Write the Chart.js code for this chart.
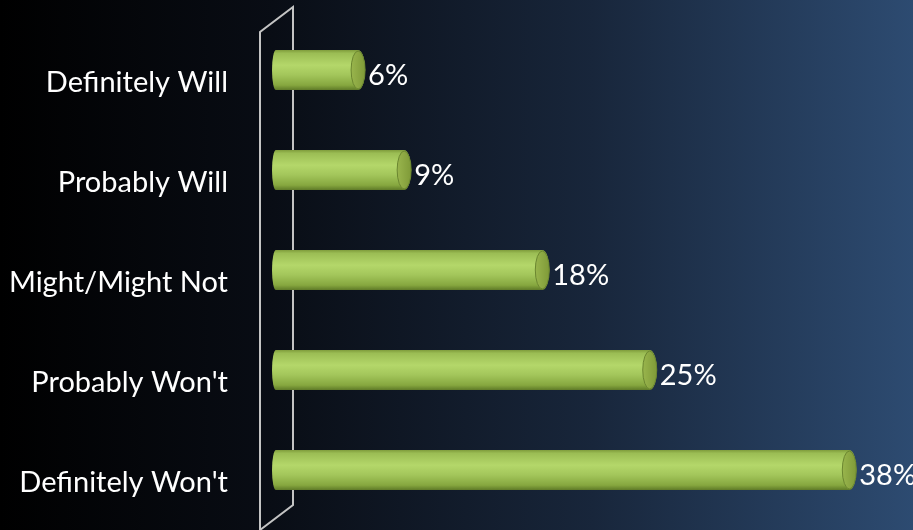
<!DOCTYPE html>
<html>
<head>
<meta charset="utf-8">
<script src="https://cdn.jsdelivr.net/npm/chart.js@4.4.1/dist/chart.umd.min.js"></script>
<style>
  html, body { margin: 0; padding: 0; background: #000; }
  #wrap { width: 913px; height: 530px; position: relative; }
</style>
</head>
<body>
<div id="wrap"><canvas id="barChart"></canvas></div>
<script>
const categories = ["Definitely Will", "Probably Will", "Might/Might Not", "Probably Won't", "Definitely Won't"];
const shares = [6, 9, 18, 25, 38];
const FONT = "Lato, 'Open Sans', sans-serif";

// dark backdrop fading from black into navy
const backdrop = {
    id: "backdrop",
    beforeDraw(chart) {
        const { ctx, width, height } = chart;
        const g = ctx.createLinearGradient(0, 0, width, 0);
        g.addColorStop(0, "#000000");
        g.addColorStop(0.3, "#090d15");
        g.addColorStop(0.65, "#18263b");
        g.addColorStop(1, "#2d4b71");
        ctx.save();
        ctx.fillStyle = g;
        ctx.fillRect(0, 0, width, height);
        ctx.restore();
    }
};

// the slanted side wall behind the bars
const wall = {
    id: "wall",
    beforeDatasetsDraw(chart) {
        const { ctx, chartArea } = chart;
        const front = chartArea.left - 13, back = chartArea.left + 20;
        const top = chartArea.top, bottom = chartArea.bottom;
        ctx.save();
        ctx.strokeStyle = "#c4c4c4";
        ctx.lineWidth = 2;
        ctx.beginPath();
        ctx.moveTo(front, chart.height + 2);
        ctx.lineTo(front, top + 12);
        ctx.lineTo(back, top - 13);
        ctx.lineTo(back, bottom - 15);
        ctx.lineTo(front, bottom + 10);
        ctx.stroke();
        ctx.restore();
    }
};

// cylinders with an end cap, plus the value text
const cylinders = {
    id: "cylinders",
    afterDatasetsDraw(chart) {
        const { ctx } = chart;
        const meta = chart.getDatasetMeta(0);
        meta.data.forEach((bar, i) => {
            const h = bar.height, top = bar.y - h / 2;
            const x0 = bar.base, x1 = bar.x;
            const rx = 7, ry = h / 2;
            ctx.save();
            const g = ctx.createLinearGradient(0, top, 0, top + h);
            g.addColorStop(0, "#7f9c3c");
            g.addColorStop(0.08, "#9bbd54");
            g.addColorStop(0.38, "#b4d76a");
            g.addColorStop(0.62, "#a3c65b");
            g.addColorStop(0.88, "#86a73f");
            g.addColorStop(1, "#5f7a28");
            ctx.fillStyle = g;
            ctx.beginPath();
            ctx.ellipse(x0 + 3, bar.y, 4, ry, 0, Math.PI / 2, Math.PI * 1.5);
            ctx.lineTo(x1 - rx, top);
            ctx.ellipse(x1 - rx, bar.y, rx, ry, 0, -Math.PI / 2, Math.PI / 2);
            ctx.closePath();
            ctx.fill();
            // end cap
            const c = ctx.createLinearGradient(x1 - 2 * rx, 0, x1, 0);
            c.addColorStop(0, "#99b54d");
            c.addColorStop(1, "#7f9a38");
            ctx.fillStyle = c;
            ctx.beginPath();
            ctx.ellipse(x1 - rx, bar.y, rx, ry - 1, 0, 0, Math.PI * 2);
            ctx.fill();
            ctx.strokeStyle = "#6b8630";
            ctx.lineWidth = 1;
            ctx.stroke();
            // label
            ctx.fillStyle = "#ffffff";
            ctx.font = "29px " + FONT;
            ctx.textAlign = "left";
            ctx.textBaseline = "middle";
            ctx.fillText(shares[i] + "%", x1 + 3, bar.y + 6);
            ctx.restore();
        });
    }
};

new Chart(document.getElementById("barChart").getContext("2d"), {
    type: "bar",
    data: {
        labels: categories,
        datasets: [{
            data: shares,
            backgroundColor: "rgba(0,0,0,0)",
            barThickness: 40
        }]
    },
    options: {
        indexAxis: "y",
        responsive: true,
        maintainAspectRatio: false,
        animation: false,
        layout: { padding: { top: 20, bottom: 10, left: 0, right: 26 } },
        plugins: { legend: { display: false }, tooltip: { enabled: false } },
        scales: {
            x: {
                display: false,
                min: 0,
                max: 40
            },
            y: {
                grid: { display: false, drawTicks: false },
                border: { display: false },
                afterFit(scale) {
                    scale.width = 273;
                    scale.paddingTop = 0;
                    scale.paddingBottom = 0;
                },
                ticks: {
                    color: "#ffffff",
                    padding: 45,
                    labelOffset: 13,
                    font: { family: FONT, size: 29 }
                }
            }
        }
    },
    plugins: [backdrop, wall, cylinders]
});
</script>
</body>
</html>
